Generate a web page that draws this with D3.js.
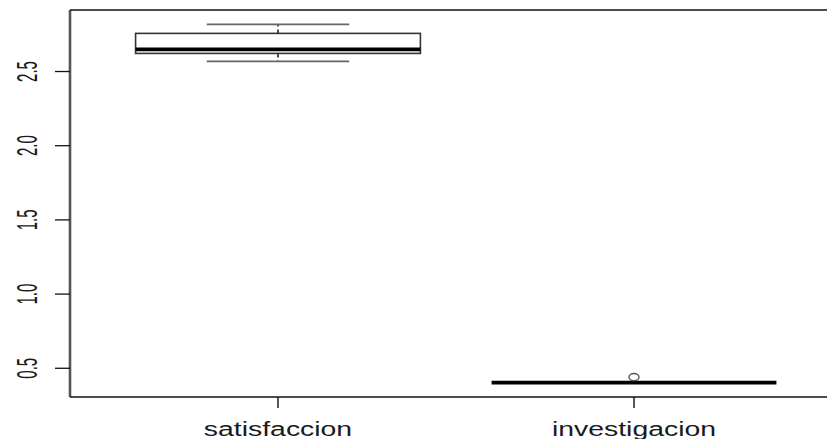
<!DOCTYPE html>
<html>
<head>
<meta charset="utf-8">
<script src="https://cdn.jsdelivr.net/npm/d3@7"></script>
<style>
  html, body { margin: 0; padding: 0; background: #fff; }
  svg { display: block; }
  text { font-family: "Liberation Sans", Arial, sans-serif; fill: #1a1a1a; }
</style>
</head>
<body>
<svg id="chart" width="827" height="439"></svg>
<script>
// Five-number summaries per group
const categories   = ["satisfaccion", "investigacion"];
const lowerWhisker = [2.568, 0.403];
const lowerHinge   = [2.622, 0.403];
const medians      = [2.649, 0.403];
const upperHinge   = [2.757, 0.403];
const upperWhisker = [2.818, 0.403];
const outliers     = [[], [0.441]];
const yTicks       = [0.5, 1.0, 1.5, 2.0, 2.5];
const yTickLabels  = ["0.5", "1.0", "1.5", "2.0", "2.5"];

const svg = d3.select("#chart");
const W = 827, H = 439;
const plot = { left: 70, top: 10, bottom: 397 };

// R-style 4% padding on the data range
const allVals = lowerWhisker.concat(upperWhisker, outliers.flat());
const lo = d3.min(allVals), hi = d3.max(allVals);
const pad = (hi - lo) * 0.04;

const y = d3.scaleLinear().domain([lo - pad, hi + pad]).range([plot.bottom, plot.top]);
// positions 1..n, xlim 0.5..n+0.5 padded 4%
const n = categories.length;
const xPad = n * 0.04;
const x = d3.scaleLinear().domain([0.5 - xPad, n + 0.5 + xPad]).range([71.5, 840.5]);
const pos = i => x(i + 1);
const boxHalf = x(1.4) - x(1);
const capHalf = x(1.2) - x(1);

// Frame (left, top, bottom; right side falls outside the canvas)
svg.append("line").attr("x1", plot.left).attr("x2", plot.left)
  .attr("y1", plot.top).attr("y2", plot.bottom)
  .attr("stroke", "#555").attr("stroke-width", 2.6);
svg.append("line").attr("x1", plot.left).attr("x2", W + 5)
  .attr("y1", plot.top).attr("y2", plot.top)
  .attr("stroke", "#111").attr("stroke-width", 1.6);
svg.append("line").attr("x1", plot.left).attr("x2", W + 5)
  .attr("y1", plot.bottom).attr("y2", plot.bottom)
  .attr("stroke", "#111").attr("stroke-width", 1.6);

// Y axis ticks and rotated labels
const yAxis = svg.append("g");
yTicks.forEach((t, i) => {
  const yy = y(t);
  yAxis.append("line").attr("x1", 55).attr("x2", plot.left)
    .attr("y1", yy).attr("y2", yy).attr("stroke", "#111").attr("stroke-width", 1.3);
  yAxis.append("text")
    .attr("transform", `translate(37,${yy}) rotate(-90) scale(1,2.0)`)
    .attr("text-anchor", "middle")
    .attr("font-size", 15)
    .text(yTickLabels[i]);
});

// X axis ticks and labels
const xAxis = svg.append("g");
categories.forEach((c, i) => {
  const xx = pos(i);
  xAxis.append("line").attr("x1", xx).attr("x2", xx)
    .attr("y1", plot.bottom).attr("y2", 408).attr("stroke", "#111").attr("stroke-width", 1.4);
  xAxis.append("text")
    .attr("transform", `translate(${xx},436) scale(1.42,1)`)
    .attr("text-anchor", "middle")
    .attr("font-size", 20)
    .text(c);
});

// Boxes
const g = svg.append("g");
categories.forEach((c, i) => {
  const cx = pos(i);
  // whisker stems (dashed)
  g.append("line").attr("x1", cx).attr("x2", cx)
    .attr("y1", y(upperHinge[i])).attr("y2", y(upperWhisker[i]))
    .attr("stroke", "#111").attr("stroke-width", 1.5).attr("stroke-dasharray", "4,3");
  g.append("line").attr("x1", cx).attr("x2", cx)
    .attr("y1", y(lowerHinge[i])).attr("y2", y(lowerWhisker[i]))
    .attr("stroke", "#111").attr("stroke-width", 1.5).attr("stroke-dasharray", "4,3");
  // whisker caps
  [upperWhisker[i], lowerWhisker[i]].forEach(v => {
    g.append("line").attr("x1", cx - capHalf).attr("x2", cx + capHalf)
      .attr("y1", y(v)).attr("y2", y(v))
      .attr("stroke", "#666").attr("stroke-width", 1.8);
  });
  // box
  g.append("rect")
    .attr("x", cx - boxHalf).attr("width", boxHalf * 2)
    .attr("y", y(upperHinge[i])).attr("height", Math.max(0, y(lowerHinge[i]) - y(upperHinge[i])))
    .attr("fill", "none").attr("stroke", "#333").attr("stroke-width", 1.6);
  // median
  g.append("line").attr("x1", cx - boxHalf).attr("x2", cx + boxHalf)
    .attr("y1", y(medians[i])).attr("y2", y(medians[i]))
    .attr("stroke", "#000").attr("stroke-width", 3.6);
  // outliers
  outliers[i].forEach(v => {
    g.append("ellipse").attr("cx", cx).attr("cy", y(v))
      .attr("rx", 5).attr("ry", 3.6)
      .attr("fill", "none").attr("stroke", "#555").attr("stroke-width", 1.4);
  });
});
</script>
</body>
</html>
